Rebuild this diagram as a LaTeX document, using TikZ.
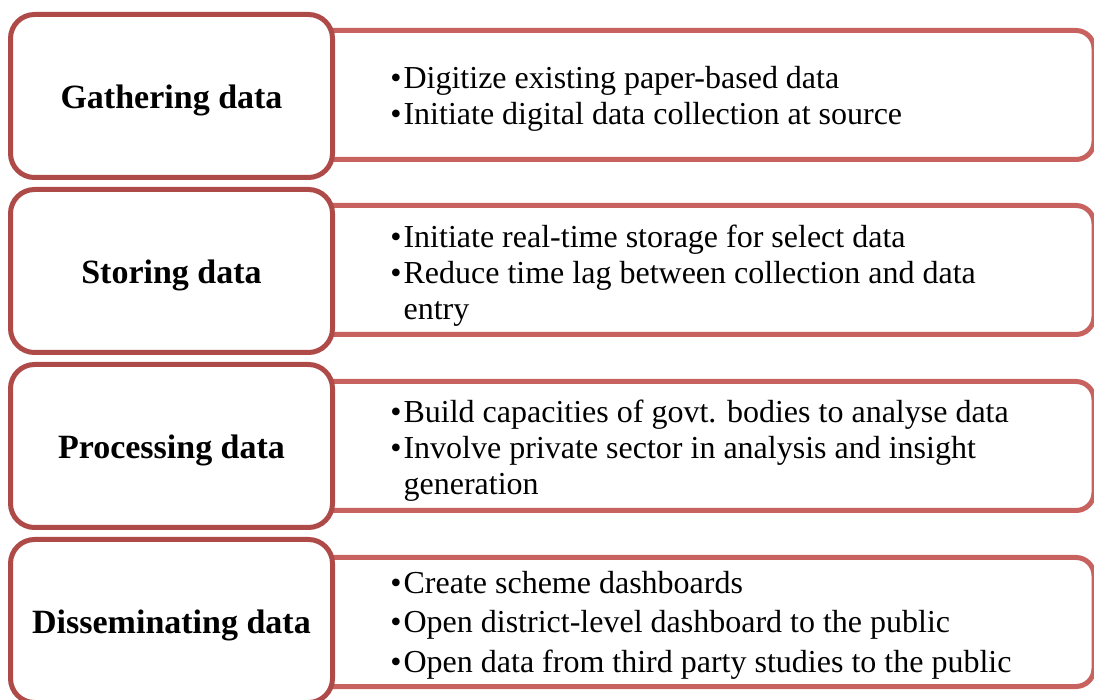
\documentclass[tikz,border=0pt]{standalone}
\usepackage{fontspec}
\setmainfont{Liberation Serif}

\definecolor{stageline}{RGB}{174,75,72}
\definecolor{detailline}{RGB}{200,98,94}

\newcommand{\itembullet}{\textbullet\hspace{1pt}}

\begin{document}
\begin{tikzpicture}[x=0.5pt,y=-0.5pt,
  stage/.style={draw=stageline,line width=2.5pt,fill=white,rounded corners=12pt,
    minimum width=161pt,minimum height=81.5pt,inner sep=0pt,
    text height=15.6pt,text depth=3.2pt,
    font=\fontsize{17}{20}\selectfont\bfseries},
  detail/.style={draw=detailline,line width=2.5pt,fill=white,rounded corners=9pt,
    minimum width=397pt,minimum height=64.5pt,inner sep=0pt},
  items/.style={anchor=west,align=left,inner sep=0pt,
    font=\fontsize{16}{18}\selectfont}]
  \useasboundingbox (0,0) rectangle (1094,700);
  \clip (0,0) rectangle (1094,700);
  % detail boxes (behind)
  \node[detail] (gatherbox)  at (697,95)  {};
  \node[detail] (storebox)   at (697,270) {};
  \node[detail] (processbox) at (697,446) {};
  \node[detail] (sharebox)   at (697,622) {};
  % stage boxes
  \node[stage] (gather)  at (171.5,96)  {Gathering data};
  \node[stage] (store)   at (171.5,271) {Storing data};
  \node[stage] (process) at (171.5,446) {Processing data};
  \node[stage] (share)   at (171.5,621) {Disseminating data};
  % bullet lists
  \node[items] (gatheritems) at (390,99)
    {\itembullet Digitize existing paper-based data\\
     \itembullet Initiate digital data collection at source};
  \node[items] (storeitems) at (390,275.5)
    {\itembullet Initiate real-time storage for select data\\
     \itembullet Reduce time lag between collection and data\\
     \phantom{\itembullet}entry};
  \node[items] (processitems) at (390,450.5)
    {\itembullet Build capacities of govt. bodies to analyse data\\
     \itembullet Involve private sector in analysis and insight\\
     \phantom{\itembullet}generation};
  \node[items,font=\fontsize{16}{19.75}\selectfont] (shareitems) at (390,625)
    {\itembullet Create scheme dashboards\\
     \itembullet Open district-level dashboard to the public\\
     \itembullet Open data from third party studies to the public};
\end{tikzpicture}
\end{document}
